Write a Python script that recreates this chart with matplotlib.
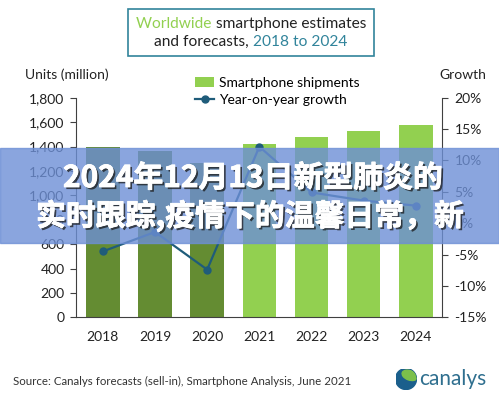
import numpy as np
import matplotlib
matplotlib.use('Agg')
import matplotlib.pyplot as plt
from matplotlib.patches import Rectangle, Circle, Ellipse
import matplotlib.patheffects as pe

# data
years = ['2018', '2019', '2020', '2021', '2022', '2023', '2024']
shipments = [1395, 1366, 1262, 1418, 1480, 1530, 1576]   # million units
growth = [-4.5, -1.4, -7.4, 12.2, 4.9, 3.6, 2.8]          # % yoy
n_actual = 3   # 2018-2020 actuals (dark), rest forecasts

left_ticks = list(range(0, 1801, 200))
right_ticks = list(range(-15, 21, 5))

dark_green = '#648c32'
light_green = '#92d050'
line_blue = '#1f5c7a'
teal = '#31849b'
axis_col = '#404040'

plt.rcParams['font.family'] = ['Lato', 'DejaVu Sans']

fig = plt.figure(figsize=(4.99, 3.93), dpi=100)
ax = fig.add_axes([0.1517, 0.1926, 0.7340, 0.5588])

x = np.arange(len(years))
cols = [dark_green] * n_actual + [light_green] * (len(years) - n_actual)
bars = ax.bar(x, shipments, width=0.64, color=cols)
ax.set_ylim(0, 1800)
ax.set_xlim(-0.52, 6.5)
ax.set_yticks(left_ticks)
ax.set_yticklabels([f'{v:,}' for v in left_ticks])
ax.set_xticks(x)
ax.set_xticklabels(years)
ax.tick_params(axis='x', length=0, pad=10, labelsize=10, labelcolor='#222')
ax.tick_params(axis='y', length=4, pad=4, labelsize=10, color=axis_col, labelcolor='#222')
for s in ['top', 'right']:
    ax.spines[s].set_visible(False)
ax.spines['left'].set_color(axis_col)
ax.spines['bottom'].set_color(axis_col)

ax2 = ax.twinx()
line, = ax2.plot(x, growth, color=line_blue, marker='o', ms=5, lw=1.6)
ax2.set_ylim(-15, 20)
ax2.set_yticks(right_ticks)
ax2.set_yticklabels([f'{v}%' for v in right_ticks])
ax2.tick_params(axis='y', length=4, pad=5, labelsize=10, color=axis_col, labelcolor='#222')
for s in ['top', 'left', 'bottom']:
    ax2.spines[s].set_visible(False)
ax2.spines['right'].set_color(axis_col)

fig.legend(handles=[bars[3], line], labels=['Smartphone shipments', 'Year-on-year growth'],
           loc='upper left', bbox_to_anchor=(195 / 499, 1 - 77 / 393), frameon=False,
           fontsize=10, handlelength=1.4, handletextpad=0.3, labelspacing=0.35,
           borderaxespad=0, borderpad=0)

fig.text(25 / 499, 1 - 75 / 393, 'Units (million)', fontsize=10, va='center', color='#222')
fig.text(463 / 499, 1 - 75 / 393, 'Growth', fontsize=10, va='center', ha='center', color='#222')

# title box with coloured words
r = fig.canvas.get_renderer()
def colored_line(parts, cy, size, cx=251):
    texts = [fig.text(0, cy, s, color=c, fontsize=size, va='center') for s, c in parts]
    widths = [t.get_window_extent(r).width for t in texts]
    x0 = cx - sum(widths) / 2
    for t, w in zip(texts, widths):
        t.set_x(x0 / fig.bbox.width)
        x0 += w

colored_line([('Worldwide ', light_green), ('smartphone estimates', '#222')], 1 - 24 / 393, 11.2)
colored_line([('and forecasts, ', '#222'), ('2018 to 2024', teal)], 1 - 42 / 393, 11.2)
fig.patches.append(Rectangle((127.7 / 499, 1 - 55.7 / 393), 246.3 / 499, 46.4 / 393,
                             transform=fig.transFigure, fill=False, ec=teal, lw=1.2))

fig.text(13 / 499, 1 - 381.7 / 393,
         'Source: Canalys forecasts (sell-in), Smartphone Analysis, June 2021',
         fontsize=8.3, va='center', color='#333')

# canalys logo
axl = fig.add_axes([395.5 / 499, (393 - 389.5) / 393, 21 / 499, 21 / 393])
axl.set_xlim(-1, 1)
axl.set_ylim(-1, 1)
axl.axis('off')
globe = Circle((0, 0), 1, color='#1b5f8c')
axl.add_patch(globe)
sw = Ellipse((0.35, 0.35), 1.5, 0.9, angle=-20, color='#7cc04b')
axl.add_patch(sw)
sw.set_clip_path(globe)
fig.text(419 / 499, 1 - 379 / 393, 'canalys', fontsize=15, va='center', color='#2f6f8f')

# overlay banner
fig.patches.append(Rectangle((0, (393 - 243) / 393), 1, 95.3 / 393, transform=fig.transFigure,
                             color='#6d8fd6', alpha=0.8, zorder=5))
heavy = [pe.withSimplePatchShadow(offset=(1.5, -1.5), shadow_rgbFace='#1a1a1a', alpha=0.75),
         pe.Stroke(linewidth=0.6, foreground='white'), pe.Normal()]
fig.text(253 / 499, 1 - 178 / 393, '2024年12月13日新型肺炎的', ha='center', va='center',
         fontsize=21.5, fontweight='bold', color='white', zorder=6,
         family=['Noto Sans CJK SC', 'DejaVu Sans'], path_effects=heavy)
fig.text(250 / 499, 1 - 216 / 393, '实时跟踪,疫情下的温馨日常，新', ha='center', va='center',
         fontsize=21.5, fontweight='bold', color='white', zorder=6,
         family=['Noto Sans CJK SC', 'DejaVu Sans'], path_effects=heavy)

fig.savefig('out.png', dpi=100)
